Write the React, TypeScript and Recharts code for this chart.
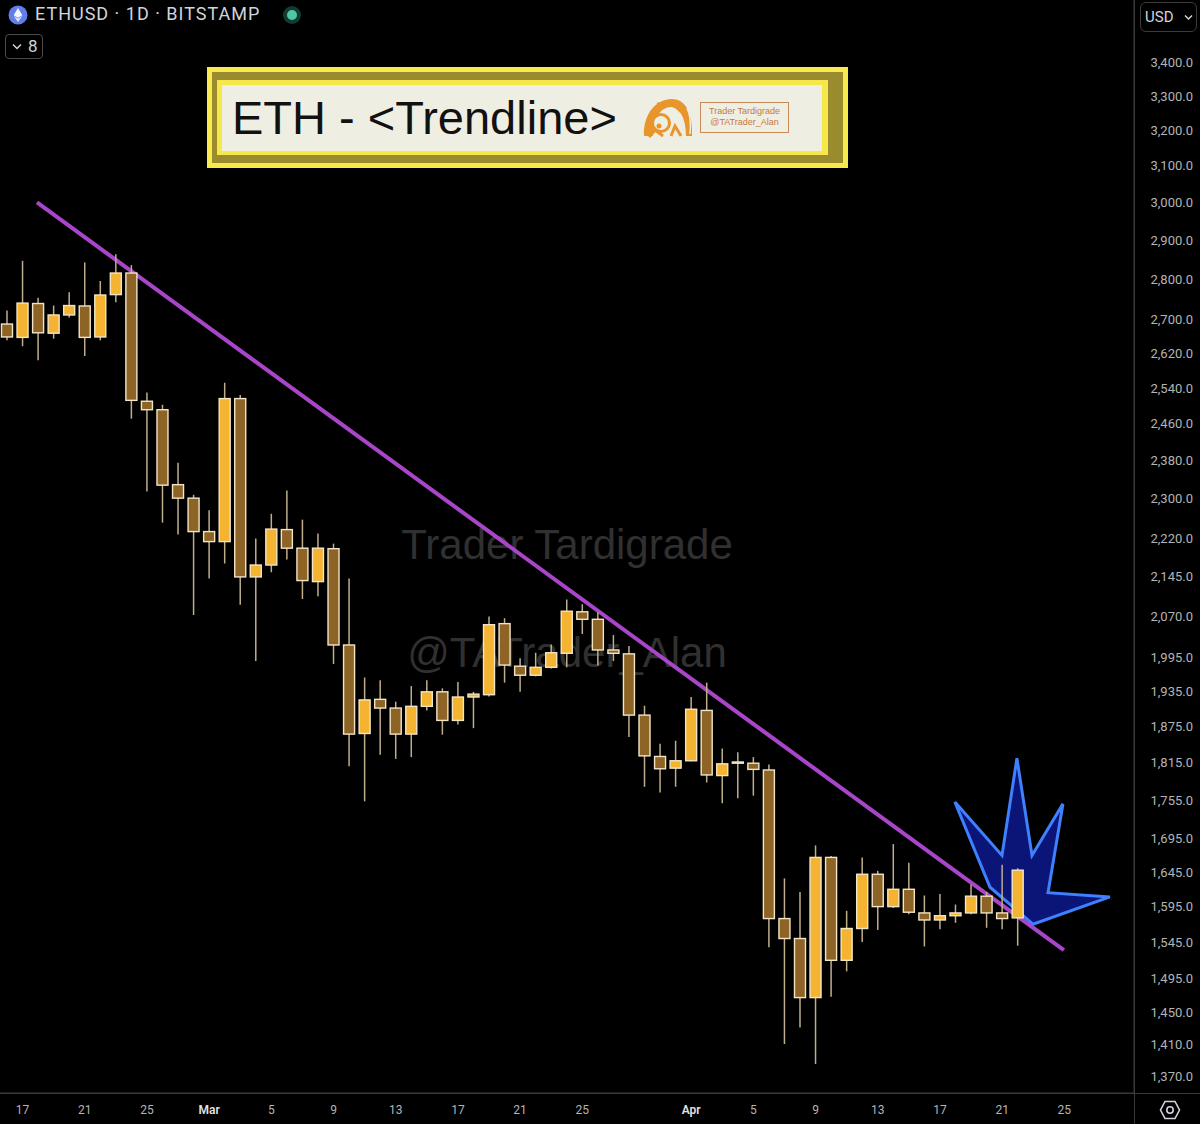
import React from "react";
import { ComposedChart, Bar, Scatter, XAxis, YAxis, ReferenceLine } from "recharts";

// daily candles, ETHUSD Bitstamp, Feb 16 -> Apr 22
const opens = [
  2690, 2658, 2740, 2668, 2712, 2734, 2659, 2762, 2816, 2510, 2491,
  2329, 2301, 2233, 2213, 2516, 2144, 2167, 2237, 2200, 2135, 2199,
  2017, 1863, 1921, 1906, 1862, 1909, 1934, 1885, 1925, 1929, 2056,
  1979, 1963, 1977, 2002, 2078, 2064, 2008, 2001, 1894, 1825, 1806,
  1818, 1902, 1794, 1816, 1814, 1803, 1578, 1550, 1470, 1667, 1520,
  1564, 1642, 1595, 1620, 1586, 1576, 1582, 1586, 1610, 1586, 1579,
];
const highs = [
  2723, 2847, 2754, 2735, 2768, 2843, 2796, 2864, 2836, 2530, 2502,
  2375, 2308, 2276, 2552, 2524, 2219, 2269, 2317, 2257, 2229, 2209,
  2141, 1959, 1954, 1917, 1944, 1954, 1940, 1951, 1934, 2069, 2066,
  1993, 2003, 2018, 2101, 2092, 2077, 2035, 2015, 1910, 1846, 1851,
  1925, 1950, 1838, 1832, 1824, 1812, 1636, 1616, 1685, 1669, 1589,
  1667, 1647, 1687, 1659, 1611, 1613, 1598, 1627, 1616, 1656, 1651,
];
const lows = [
  2651, 2637, 2604, 2655, 2706, 2614, 2651, 2743, 2471, 2315, 2251,
  2227, 2072, 2141, 2170, 2091, 1988, 2153, 2178, 2102, 2107, 1983,
  1809, 1753, 1828, 1821, 1824, 1902, 1861, 1878, 1872, 1926, 1950,
  1934, 1961, 1975, 1977, 2037, 1980, 1988, 1857, 1776, 1767, 1776,
  1817, 1783, 1750, 1758, 1762, 1538, 1410, 1431, 1385, 1471, 1505,
  1545, 1562, 1593, 1584, 1539, 1563, 1572, 1584, 1565, 1563, 1540,
];
const closes = [
  2659, 2741, 2669, 2712, 2735, 2658, 2761, 2816, 2512, 2491, 2328,
  2301, 2233, 2213, 2516, 2144, 2167, 2238, 2200, 2137, 2200, 2017,
  1862, 1920, 1906, 1862, 1909, 1934, 1885, 1925, 1930, 2054, 1981,
  1963, 1977, 2003, 2079, 2064, 2008, 2002, 1894, 1826, 1805, 1818,
  1904, 1795, 1813, 1814, 1804, 1578, 1550, 1470, 1667, 1520, 1564,
  1642, 1595, 1620, 1587, 1576, 1582, 1586, 1610, 1586, 1578, 1648,
];

// x ticks as day index (0 = Feb 16)
const tickDays = [1, 5, 9, 13, 17, 21, 25, 29, 33, 37, 44, 48, 52, 56, 60, 64, 68];
const tickLabels = ["17", "21", "25", "Mar", "5", "9", "13", "17", "21", "25", "Apr", "5", "9", "13", "17", "21", "25"];

const priceTicks = [
  3400, 3300, 3200, 3100, 3000, 2900, 2800, 2700, 2620, 2540, 2460, 2380, 2300, 2220,
  2145, 2070, 1995, 1935, 1875, 1815, 1755, 1695, 1645, 1595, 1545, 1495, 1450, 1410, 1370,
];

// drawn trendline
const trendDays = [1.93, 67.97];
const trendPrices = [3000, 1534];

// blue "star" annotation outline
const starDays = [64.95, 65.92, 67.91, 66.95, 70.93, 65.98, 63.22, 60.96, 63.99];
const starPrices = [1822, 1670, 1749, 1615, 1609, 1570, 1623, 1752, 1670];

const BULL = "#f5b332";
const BEAR = "#8d6426";
const EDGE = "#f2e5c6";
const WICK = "#bfae8c";
const GRID = "#3a3a3a";
const BODY_W = 11;

const candles = opens.map((o, i) => ({
  i,
  open: o,
  high: highs[i],
  low: lows[i],
  close: closes[i],
  range: [lows[i], highs[i]],
}));

const starData = starDays.map((d, k) => ({ i: d, p: starPrices[k] }));

const Candle = (props: any) => {
  const { x, y, width, height, payload } = props;
  if (x == null || !payload) return null;
  const top = height >= 0 ? y : y + height;
  const h = Math.abs(height);
  const lh = Math.log(payload.high);
  const ll = Math.log(payload.low);
  const toY = (v: number) => top + (h * (lh - Math.log(v))) / (lh - ll);
  const cx = x + (width || 0) / 2;
  const up = payload.close >= payload.open;
  const bTop = toY(Math.max(payload.open, payload.close));
  const bBot = toY(Math.min(payload.open, payload.close));
  return (
    <g>
      <line x1={cx} x2={cx} y1={top} y2={top + h} stroke={WICK} strokeWidth={1.5} />
      <rect
        x={cx - BODY_W / 2}
        y={bTop}
        width={BODY_W}
        height={Math.max(bBot - bTop, 1)}
        fill={up ? BULL : BEAR}
        stroke={EDGE}
        strokeWidth={1.4}
      />
    </g>
  );
};

const StarOutline = (props: any) => {
  const pts = (props.points || []).map((p: any) => `${p.x},${p.y}`).join(" ");
  return <polygon points={pts} fill="#0b1477" stroke="#3f80ff" strokeWidth={3} strokeLinejoin="miter" />;
};

const XTick = (props: any) => {
  const { x, payload } = props;
  const k = tickDays.indexOf(payload.value);
  const label = tickLabels[k];
  const month = label === "Mar" || label === "Apr";
  return (
    <text
      x={x}
      y={1114}
      textAnchor="middle"
      fill={month ? "#e2e2e2" : "#b4b4b4"}
      fontSize={12}
      fontWeight={month ? 600 : 400}
      fontFamily="Roboto, sans-serif"
    >
      {label}
    </text>
  );
};

const YTick = (props: any) => {
  const { y, payload } = props;
  return (
    <text x={1193} y={y + 4.5} textAnchor="end" fill="#b4b4b4" fontSize={13} fontFamily="Roboto, sans-serif">
      {payload.value.toLocaleString("en-US", { minimumFractionDigits: 1 })}
    </text>
  );
};

const Abs = ({ l, t, w, h, bg }: any) => (
  <div style={{ position: "absolute", left: l, top: t, width: w, height: h, background: bg }} />
);

export default function App() {
  return (
    <div
      style={{
        position: "absolute",
        left: 0,
        top: 0,
        width: 1200,
        height: 1124,
        background: "#000",
        overflow: "hidden",
        fontFamily: "Roboto, 'Liberation Sans', sans-serif",
      }}
    >
      {/* watermark */}
      <div style={{ position: "absolute", left: 0, width: 1134, top: 521, textAlign: "center" }}>
        <span style={{ color: "#303030", fontSize: 42, fontFamily: "'Liberation Sans', Arial, sans-serif" }}>
          Trader Tardigrade
        </span>
      </div>
      <div style={{ position: "absolute", left: 0, width: 1134, top: 629, textAlign: "center" }}>
        <span style={{ color: "#303030", fontSize: 42, fontFamily: "'Liberation Sans', Arial, sans-serif" }}>
          @TATrader_Alan
        </span>
      </div>

      <div style={{ position: "absolute", left: 0, top: 0 }}>
        <ComposedChart width={1200} height={1124} data={candles} margin={{ top: 0, right: 0, bottom: 0, left: 0 }}>
          <XAxis
            dataKey="i"
            type="number"
            domain={[-0.45, 72.48]}
            allowDataOverflow
            ticks={tickDays}
            interval={0}
            height={31}
            axisLine={{ stroke: GRID }}
            tickLine={false}
            tick={<XTick />}
          />
          <YAxis
            orientation="right"
            type="number"
            scale="log"
            domain={[1349.4, 3597.6]}
            allowDataOverflow
            ticks={priceTicks}
            interval={0}
            width={66}
            axisLine={{ stroke: GRID }}
            tickLine={false}
            tick={<YTick />}
          />
          <Scatter
            data={starData}
            dataKey="p"
            line={StarOutline}
            shape={() => <g />}
            zIndex={50}
            isAnimationActive={false}
          />
          <ReferenceLine
            segment={[
              { x: trendDays[0], y: trendPrices[0] },
              { x: trendDays[1], y: trendPrices[1] },
            ]}
            stroke="#a845c9"
            strokeWidth={4}
            ifOverflow="visible"
            zIndex={200}
          />
          <Bar dataKey="range" barSize={11} shape={<Candle />} zIndex={300} isAnimationActive={false} />
        </ComposedChart>
      </div>

      {/* panel separators */}
      <Abs l={0} t={1093} w={1200} h={1} bg={GRID} />
      <Abs l={1134} t={0} w={1} h={1124} bg={GRID} />

      {/* header */}
      <svg style={{ position: "absolute", left: 8, top: 5 }} width={20} height={20}>
        <circle cx={10} cy={10} r={9.5} fill="#627eea" />
        <path d="M10 3 L14.3 10.2 L10 12.7 L5.7 10.2 Z" fill="#fff" opacity={0.95} />
        <path d="M10 13.6 L14.3 11.1 L10 17 L5.7 11.1 Z" fill="#fff" opacity={0.8} />
      </svg>
      <div style={{ position: "absolute", left: 35, top: 3, color: "#d1d4dc", fontSize: 18, letterSpacing: 1 }}>
        ETHUSD · 1D · BITSTAMP
      </div>
      <svg style={{ position: "absolute", left: 282, top: 5 }} width={20} height={20}>
        <circle cx={10} cy={10} r={9} fill="#123b33" />
        <circle cx={10} cy={10} r={5} fill="#4fc7a6" />
      </svg>
      <div
        style={{
          position: "absolute",
          left: 5,
          top: 34,
          width: 38,
          height: 25,
          border: "1px solid #4a4a4a",
          borderRadius: 4,
          boxSizing: "border-box",
        }}
      >
        <svg style={{ position: "absolute", left: 6, top: 8 }} width={10} height={8}>
          <path d="M1 1.5 L5 5.5 L9 1.5" stroke="#d1d4dc" strokeWidth={1.5} fill="none" />
        </svg>
        <div style={{ position: "absolute", left: 22, top: 1, color: "#d1d4dc", fontSize: 17 }}>8</div>
      </div>

      {/* currency box */}
      <div
        style={{
          position: "absolute",
          left: 1140,
          top: 2,
          width: 57,
          height: 30,
          border: "1px solid #3c3c3c",
          borderRadius: 6,
          boxSizing: "border-box",
        }}
      >
        <div style={{ position: "absolute", left: 4, top: 5, color: "#d1d4dc", fontSize: 15 }}>USD</div>
        <svg style={{ position: "absolute", left: 43, top: 11 }} width={9} height={7}>
          <path d="M1 1.5 L4.5 5 L8 1.5" stroke="#d1d4dc" strokeWidth={1.5} fill="none" />
        </svg>
      </div>

      {/* settings icon */}
      <svg style={{ position: "absolute", left: 1159, top: 1099 }} width={22} height={22}>
        <path d="M6 2.5 L16 2.5 L20.5 11 L16 19.5 L6 19.5 L1.5 11 Z" stroke="#d1d4dc" strokeWidth={1.6} fill="none" />
        <circle cx={11} cy={11} r={3.2} stroke="#d1d4dc" strokeWidth={1.6} fill="none" />
      </svg>

      {/* title banner */}
      <Abs l={207} t={67} w={641} h={101} bg="#f8ea4c" />
      <Abs l={212} t={72} w={631} h={91} bg="#9a8c2e" />
      <Abs l={217} t={80} w={611} h={75} bg="#f6e84a" />
      <Abs l={222} t={85} w={600} h={66} bg="#efeee3" />
      <div
        style={{
          position: "absolute",
          left: 232,
          top: 90,
          color: "#111",
          fontSize: 47,
          lineHeight: "56px",
          fontFamily: "'Liberation Sans', Arial, sans-serif",
        }}
      >
        ETH - &lt;Trendline&gt;
      </div>
      <svg style={{ position: "absolute", left: 641, top: 96 }} width={54} height={44}>
        <path d="M3 40 C2 18 15 3 31 3 C45 3 52 18 51 40 L45 40 C45 24 40 12 30 11 C20 11 12 22 12 40 Z" fill="#e8952b" />
        <path d="M16 8 C24 6 34 8 40 16" stroke="#e8952b" strokeWidth={2.5} fill="none" />
        <path d="M46 12 C49 18 50 28 49 38" stroke="#efeee3" strokeWidth={1.5} fill="none" />
        <circle cx={20} cy={27} r={8.5} fill="#efeee3" stroke="#e8952b" strokeWidth={3} />
        <circle cx={18} cy={30} r={2.5} fill="#e8952b" />
        <path d="M8 41 L14 34 L22 40" stroke="#e8952b" strokeWidth={3} fill="none" />
        <path d="M30 40 L34 30 L40 40" stroke="#e8952b" strokeWidth={3} fill="none" />
      </svg>
      <div
        style={{
          position: "absolute",
          left: 700,
          top: 102,
          width: 89,
          height: 31,
          border: "1px solid #c98a5a",
          boxSizing: "border-box",
          color: "#c8793a",
          fontSize: 9,
          lineHeight: "11px",
          textAlign: "center",
          paddingTop: 3,
          fontFamily: "'Liberation Sans', Arial, sans-serif",
        }}
      >
        <div>Trader Tardigrade</div>
        <div>@TATrader_Alan</div>
      </div>
    </div>
  );
}
